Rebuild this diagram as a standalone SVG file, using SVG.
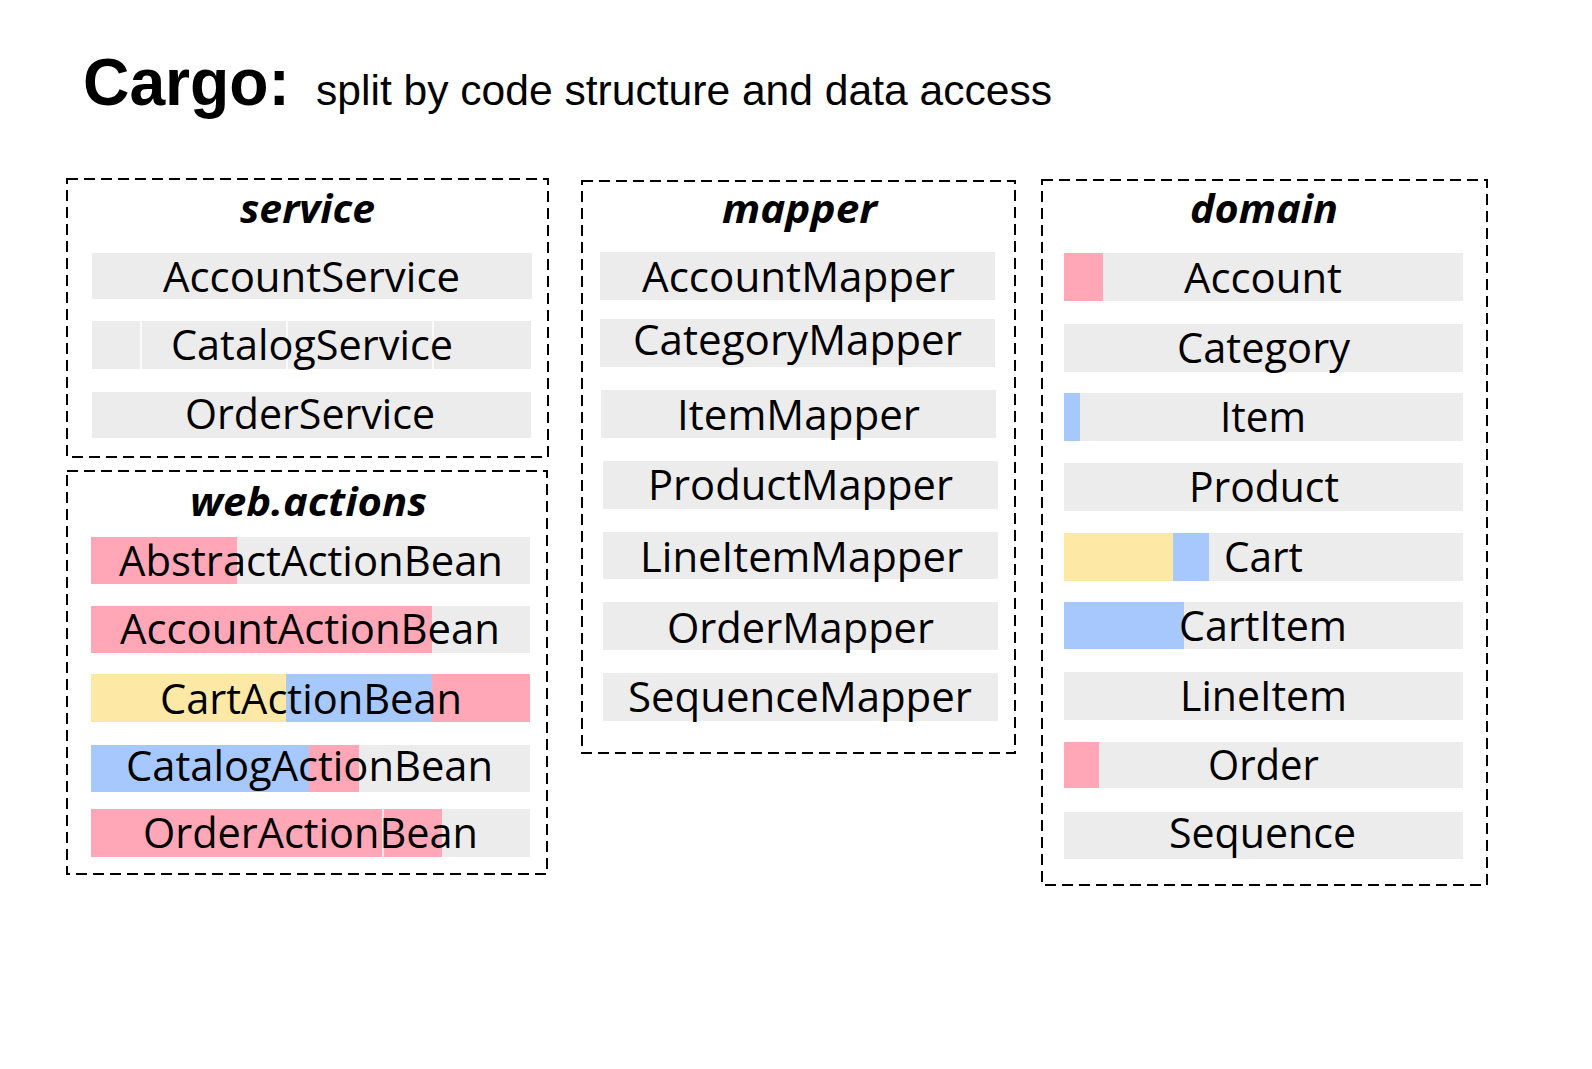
<svg xmlns="http://www.w3.org/2000/svg" width="1592" height="1069" viewBox="0 0 1592 1069">
<style>
.box{fill:none;stroke:#000;stroke-width:2;stroke-dasharray:11,6}
.g{fill:#ececec}
.p{fill:#ffa7b6}
.y{fill:#fde8a5}
.b{fill:#a6c8fc}
.sep{stroke:#fff;stroke-width:1.5}
.t{font-family:"Open Sans","Noto Sans","DejaVu Sans",sans-serif;font-size:42px;fill:#000}
.h{font-family:"Open Sans","Noto Sans","DejaVu Sans",sans-serif;font-size:40px;font-weight:bold;font-style:italic;fill:#000}
</style>
<rect width="1592" height="1069" fill="#fff"/>
<g id="title">
<text x="83" y="105" textLength="207" lengthAdjust="spacingAndGlyphs" style="font-family:'Liberation Sans',Arial,sans-serif;font-size:66px;font-weight:bold">Cargo:</text>
<text x="316" y="105" textLength="736" lengthAdjust="spacingAndGlyphs" style="font-family:'Liberation Sans',Arial,sans-serif;font-size:42px">split by code structure and data access</text>
</g>
<g id="service">
<rect class="box" x="67" y="179" width="481" height="278"/>
<text class="h" x="240" y="223" textLength="135" lengthAdjust="spacingAndGlyphs">service</text>
<g id="AccountService"><rect class="g" x="92" y="253" width="440" height="46"/><text class="t" x="163" y="292" textLength="297" lengthAdjust="spacingAndGlyphs">AccountService</text></g>
<g id="CatalogService"><rect class="g" x="92" y="321" width="439" height="48"/><line class="sep" x1="141" y1="321" x2="141" y2="369"/><line class="sep" x1="287" y1="321" x2="287" y2="369"/><line class="sep" x1="433" y1="321" x2="433" y2="369"/><text class="t" x="171" y="360" textLength="282" lengthAdjust="spacingAndGlyphs">CatalogService</text></g>
<g id="OrderService"><rect class="g" x="92" y="392" width="439" height="46"/><text class="t" x="185" y="429" textLength="250" lengthAdjust="spacingAndGlyphs">OrderService</text></g>
</g>
<g id="web.actions">
<rect class="box" x="67" y="471" width="480" height="403"/>
<text class="h" x="190" y="516" textLength="237" lengthAdjust="spacingAndGlyphs">web.actions</text>
<g id="AbstractActionBean"><rect class="g" x="91" y="537" width="439" height="47"/><rect class="p" x="91" y="537" width="146" height="47"/><text class="t" x="119" y="576" textLength="384" lengthAdjust="spacingAndGlyphs">AbstractActionBean</text></g>
<g id="AccountActionBean"><rect class="g" x="91" y="606" width="439" height="47"/><rect class="p" x="91" y="606" width="341" height="47"/><text class="t" x="120" y="644" textLength="380" lengthAdjust="spacingAndGlyphs">AccountActionBean</text></g>
<g id="CartActionBean"><rect class="y" x="91" y="674" width="195" height="48"/><rect class="b" x="286" y="674" width="146" height="48"/><rect class="p" x="432" y="674" width="98" height="48"/><text class="t" x="160" y="714" textLength="302" lengthAdjust="spacingAndGlyphs">CartActionBean</text></g>
<g id="CatalogActionBean"><rect class="g" x="91" y="745" width="439" height="47"/><rect class="b" x="91" y="745" width="218" height="47"/><rect class="p" x="309" y="745" width="50" height="47"/><text class="t" x="126" y="781" textLength="367" lengthAdjust="spacingAndGlyphs">CatalogActionBean</text></g>
<g id="OrderActionBean"><rect class="g" x="91" y="809" width="439" height="48"/><rect class="p" x="91" y="809" width="351" height="48"/><line class="sep" x1="383" y1="809" x2="383" y2="857"/><text class="t" x="143" y="848" textLength="335" lengthAdjust="spacingAndGlyphs">OrderActionBean</text></g>
</g>
<g id="mapper">
<rect class="box" x="582" y="181" width="433" height="572"/>
<text class="h" x="722" y="223" textLength="155" lengthAdjust="spacingAndGlyphs">mapper</text>
<g id="AccountMapper"><rect class="g" x="600" y="252" width="395" height="48"/><text class="t" x="642" y="292" textLength="313" lengthAdjust="spacingAndGlyphs">AccountMapper</text></g>
<g id="CategoryMapper"><rect class="g" x="600" y="319" width="395" height="48"/><text class="t" x="633" y="355" textLength="329" lengthAdjust="spacingAndGlyphs">CategoryMapper</text></g>
<g id="ItemMapper"><rect class="g" x="601" y="390" width="395" height="48"/><text class="t" x="677" y="430" textLength="243" lengthAdjust="spacingAndGlyphs">ItemMapper</text></g>
<g id="ProductMapper"><rect class="g" x="603" y="461" width="395" height="48"/><text class="t" x="648" y="500" textLength="305" lengthAdjust="spacingAndGlyphs">ProductMapper</text></g>
<g id="LineItemMapper"><rect class="g" x="603" y="532" width="395" height="47"/><text class="t" x="640" y="572" textLength="323" lengthAdjust="spacingAndGlyphs">LineItemMapper</text></g>
<g id="OrderMapper"><rect class="g" x="603" y="602" width="395" height="48"/><text class="t" x="667" y="643" textLength="267" lengthAdjust="spacingAndGlyphs">OrderMapper</text></g>
<g id="SequenceMapper"><rect class="g" x="603" y="673" width="395" height="48"/><text class="t" x="628" y="712" textLength="344" lengthAdjust="spacingAndGlyphs">SequenceMapper</text></g>
</g>
<g id="domain">
<rect class="box" x="1042" y="180" width="445" height="705"/>
<text class="h" x="1190" y="223" textLength="148" lengthAdjust="spacingAndGlyphs">domain</text>
<g id="Account"><rect class="g" x="1064" y="253" width="399" height="48"/><rect class="p" x="1064" y="253" width="39" height="48"/><text class="t" x="1184" y="293" textLength="158" lengthAdjust="spacingAndGlyphs">Account</text></g>
<g id="Category"><rect class="g" x="1064" y="324" width="399" height="48"/><text class="t" x="1177" y="363" textLength="173" lengthAdjust="spacingAndGlyphs">Category</text></g>
<g id="Item"><rect class="g" x="1064" y="393" width="399" height="48"/><rect class="b" x="1064" y="393" width="16" height="48"/><text class="t" x="1220" y="432" textLength="86" lengthAdjust="spacingAndGlyphs">Item</text></g>
<g id="Product"><rect class="g" x="1064" y="463" width="399" height="48"/><text class="t" x="1189" y="502" textLength="150" lengthAdjust="spacingAndGlyphs">Product</text></g>
<g id="Cart"><rect class="g" x="1064" y="533" width="399" height="48"/><rect class="y" x="1064" y="533" width="109" height="48"/><rect class="b" x="1173" y="533" width="36" height="48"/><text class="t" x="1224" y="572" textLength="79" lengthAdjust="spacingAndGlyphs">Cart</text></g>
<g id="CartItem"><rect class="g" x="1064" y="602" width="399" height="47"/><rect class="b" x="1064" y="602" width="120" height="47"/><text class="t" x="1179" y="641" textLength="168" lengthAdjust="spacingAndGlyphs">CartItem</text></g>
<g id="LineItem"><rect class="g" x="1064" y="672" width="399" height="48"/><text class="t" x="1180" y="711" textLength="167" lengthAdjust="spacingAndGlyphs">LineItem</text></g>
<g id="Order"><rect class="g" x="1064" y="742" width="399" height="46"/><rect class="p" x="1064" y="742" width="35" height="46"/><text class="t" x="1208" y="780" textLength="111" lengthAdjust="spacingAndGlyphs">Order</text></g>
<g id="Sequence"><rect class="g" x="1064" y="812" width="399" height="47"/><text class="t" x="1169" y="848" textLength="187" lengthAdjust="spacingAndGlyphs">Sequence</text></g>
</g>
<g id="connectors"/>
</svg>
